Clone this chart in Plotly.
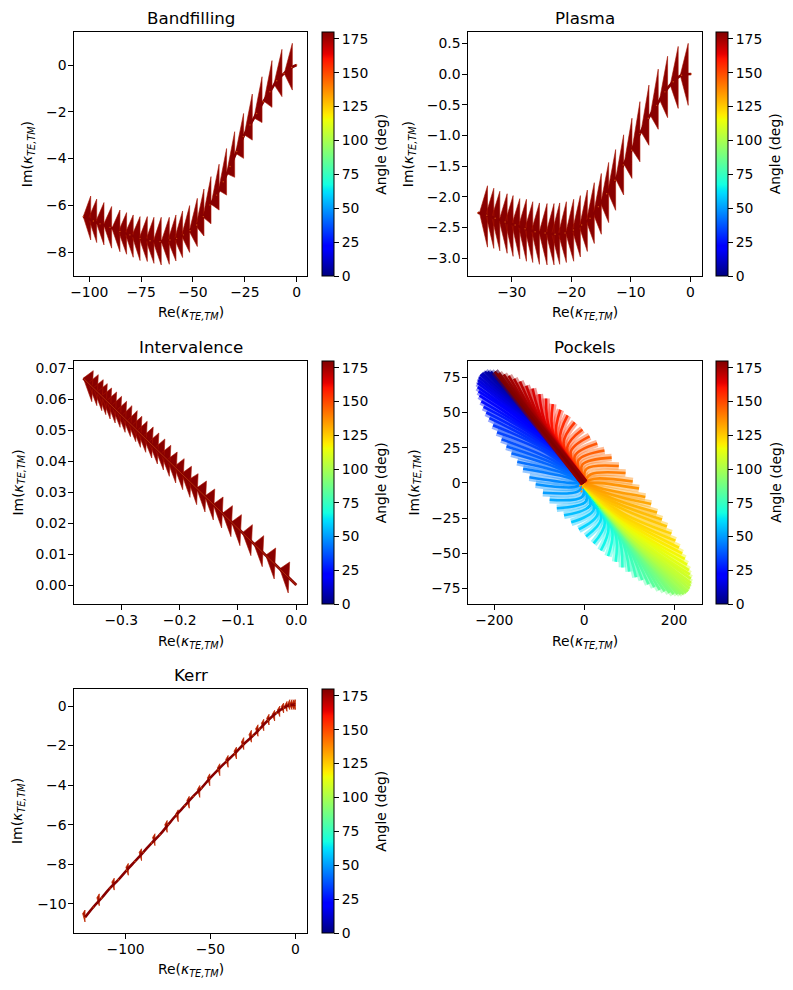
import plotly.graph_objects as go
from plotly.colors import sample_colorscale

WIDTH, HEIGHT = 793, 990
DARK_RED = "#880000"
FONT = "DejaVu Sans"

# Jet colour ramp, stop by stop
JET = [
    [0.0, "rgb(0,0,127)"], [0.11, "rgb(0,0,255)"], [0.125, "rgb(0,0,255)"],
    [0.34, "rgb(0,219,255)"], [0.35, "rgb(0,229,247)"], [0.375, "rgb(20,255,226)"],
    [0.64, "rgb(238,255,8)"], [0.65, "rgb(247,246,0)"], [0.66, "rgb(255,236,0)"],
    [0.89, "rgb(255,19,0)"], [0.91, "rgb(230,0,0)"], [1.0, "rgb(127,0,0)"],
]

# Bandfilling
BF_SPINE_RE = [0, -2.4, -6.1, -9.6, -12.9, -16.1, -19.3, -22.5, -25.7, -28.9, -32.1, -35.4, -38.6, -41.8, -45, -48.2, -51.4, -54.6, -57.9, -61.1, -65.9, -70.7, -75.5, -80.4, -85.2, -90, -94.8, -98, -102.9]
BF_SPINE_IM = [0, -0.10, -0.36, -0.67, -1.14, -1.57, -2.07, -2.56, -3.06, -3.70, -4.34, -4.99, -5.56, -5.98, -6.48, -6.84, -7.08, -7.26, -7.41, -7.48, -7.55, -7.51, -7.41, -7.26, -7.12, -6.94, -6.79, -6.67, -6.48]
BF_FAN_RE = [-2.1, -7.1, -11.9, -16.7, -21.4, -25.6, -29.9, -33.8, -37.4, -41.3, -44.7, -47.9, -51.6, -55.0, -58.2, -61.4, -65.3, -68.8, -72.0, -75.5, -78.8, -82.0, -85.2, -89.2, -92.9, -96.4, -99.3]
BF_FAN_TOP = [0.93, 0.67, 0.19, -0.50, -1.24, -2.07, -2.85, -3.57, -4.24, -4.77, -5.30, -5.70, -6.01, -6.24, -6.41, -6.51, -6.51, -6.51, -6.48, -6.48, -6.41, -6.31, -6.20, -6.05, -5.88, -5.73, -5.60]
BF_FAN_BOTTOM = [-1.07, -1.35, -1.81, -2.46, -3.21, -3.99, -4.80, -5.56, -6.20, -6.79, -7.31, -7.76, -8.01, -8.23, -8.38, -8.52, -8.55, -8.48, -8.40, -8.36, -8.22, -8.09, -7.98, -7.83, -7.69, -7.59, -7.48]
BF_APEX_RE = [-6.0, -11.0, -15.8, -20.6, -25.3, -29.5, -33.8, -37.7, -41.3, -45.2, -48.6, -51.8, -55.5, -58.9, -62.1, -65.3, -69.2, -72.7, -75.9, -79.4, -82.7, -85.9, -89.1, -93.1, -96.8, -100.3, -102.9]
BF_APEX_IM = [-0.36, -0.82, -1.55, -2.26, -2.98, -3.77, -4.64, -5.35, -5.95, -6.50, -6.88, -7.11, -7.30, -7.44, -7.50, -7.54, -7.55, -7.48, -7.40, -7.29, -7.19, -7.11, -6.98, -6.82, -6.68, -6.55, -6.48]

# Plasma
PL_SPINE_RE = [0.1, -1.51, -2.91, -4.30, -5.70, -7.09, -8.49, -9.89, -11.28, -12.68, -14.08, -15.47, -16.87, -18.27, -19.66, -21.06, -22.74, -24.41, -26.09, -27.77, -29.44, -31.12, -32.79, -34.19, -35.7]
PL_SPINE_IM = [0.0, -0.02, -0.125, -0.29, -0.51, -0.72, -0.97, -1.24, -1.48, -1.73, -1.95, -2.16, -2.35, -2.46, -2.54, -2.59, -2.61, -2.59, -2.57, -2.52, -2.46, -2.41, -2.35, -2.30, -2.26]
PL_FAN_RE = [-0.39, -2.07, -3.85, -5.42, -6.98, -8.49, -9.83, -11.23, -12.57, -13.74, -14.97, -16.15, -17.32, -18.49, -19.61, -20.84, -21.96, -22.91, -24.08, -25.36, -26.48, -27.54, -28.66, -29.78, -30.78, -32.01, -33.02, -34.08]
PL_FAN_TOP = [0.50, 0.45, 0.29, 0.08, -0.18, -0.45, -0.72, -0.99, -1.23, -1.44, -1.62, -1.77, -1.89, -1.98, -2.04, -2.08, -2.10, -2.11, -2.11, -2.10, -2.08, -2.04, -2.03, -1.98, -1.95, -1.91, -1.86, -1.82]
PL_FAN_BOTTOM = [-0.51, -0.56, -0.71, -0.90, -1.16, -1.43, -1.70, -1.97, -2.22, -2.42, -2.61, -2.76, -2.89, -2.98, -3.05, -3.07, -3.10, -3.11, -3.11, -3.10, -3.07, -3.05, -3.01, -2.97, -2.92, -2.88, -2.84, -2.82]
PL_APEX_RE = [-1.73, -3.41, -5.20, -6.76, -8.32, -9.83, -11.17, -12.57, -13.91, -15.08, -16.31, -17.49, -18.66, -19.83, -20.95, -22.18, -23.30, -24.25, -25.42, -26.70, -27.82, -28.88, -30.0, -31.12, -32.12, -33.35, -34.36, -35.42]
PL_APEX_IM = [-0.02, -0.18, -0.42, -0.67, -0.94, -1.23, -1.47, -1.71, -1.92, -2.11, -2.28, -2.40, -2.49, -2.55, -2.59, -2.60, -2.60, -2.59, -2.58, -2.55, -2.52, -2.48, -2.45, -2.41, -2.38, -2.33, -2.29, -2.26]

# Intervalence
IV_SPINE_RE = [0, -0.05, -0.10, -0.15, -0.20, -0.25, -0.30, -0.35, -0.365]
IV_SPINE_IM = [0, 0.0091, 0.0183, 0.0274, 0.0365, 0.0457, 0.0548, 0.0640, 0.0667]
IV_TOP_RE = [-0.0114, -0.0354, -0.0559, -0.0753, -0.0941, -0.1095, -0.1255, -0.1398, -0.1540, -0.1683, -0.1797, -0.1922, -0.2042, -0.2151, -0.2253, -0.2356, -0.2453, -0.2556, -0.2647, -0.2727, -0.2818, -0.2909, -0.2995, -0.3080, -0.3166, -0.3240, -0.3309, -0.3394, -0.3480]
IV_TOP_IM = [0.00742, 0.01194, 0.01591, 0.01946, 0.02269, 0.02559, 0.02839, 0.03097, 0.03355, 0.03591, 0.03828, 0.04075, 0.04290, 0.04505, 0.04710, 0.04903, 0.05097, 0.05280, 0.05441, 0.05624, 0.05785, 0.05925, 0.06086, 0.06226, 0.06355, 0.06495, 0.06624, 0.06785, 0.06914]
IV_BOTTOM_RE = [-0.0139, -0.0379, -0.0584, -0.0778, -0.0966, -0.1120, -0.1280, -0.1423, -0.1565, -0.1708, -0.1822, -0.1947, -0.2067, -0.2176, -0.2278, -0.2381, -0.2478, -0.2581, -0.2672, -0.2752, -0.2843, -0.2934, -0.3020, -0.3105, -0.3191, -0.3265, -0.3334, -0.3419, -0.3505]
IV_BOTTOM_IM = [-0.00258, 0.00194, 0.00591, 0.00946, 0.01269, 0.01559, 0.01839, 0.02097, 0.02355, 0.02591, 0.02828, 0.03075, 0.03290, 0.03505, 0.03710, 0.03903, 0.04097, 0.04280, 0.04441, 0.04624, 0.04785, 0.04925, 0.05086, 0.05226, 0.05355, 0.05495, 0.05624, 0.05785, 0.05914]
IV_APEX_RE = [-0.0285, -0.0525, -0.0730, -0.0924, -0.1112, -0.1266, -0.1426, -0.1569, -0.1711, -0.1854, -0.1968, -0.2093, -0.2213, -0.2322, -0.2424, -0.2527, -0.2624, -0.2727, -0.2818, -0.2898, -0.2989, -0.3080, -0.3166, -0.3251, -0.3337, -0.3411, -0.3480, -0.3565, -0.3651]
IV_APEX_IM = [0.00521, 0.00960, 0.01334, 0.01689, 0.02033, 0.02314, 0.02607, 0.02868, 0.03128, 0.03389, 0.03598, 0.03826, 0.04045, 0.04245, 0.04431, 0.04619, 0.04797, 0.04985, 0.05151, 0.05298, 0.05464, 0.05630, 0.05787, 0.05943, 0.06100, 0.06235, 0.06361, 0.06517, 0.06674]

# Kerr
KE_SPINE_RE = [0, -3.3, -6.9, -11.2, -16.1, -21.0, -24.9, -30.8, -35.7, -40.6, -45.5, -50.4, -55.3, -60.2, -65.1, -70, -74.9, -79.8, -84.7, -89.6, -94.5, -99.4, -104.3, -109.2, -114.1, -119, -123.9]
KE_SPINE_IM = [0.07, 0.05, -0.10, -0.35, -0.72, -1.16, -1.50, -1.96, -2.41, -2.80, -3.22, -3.66, -4.15, -4.57, -5.04, -5.50, -6.00, -6.51, -6.93, -7.40, -7.86, -8.31, -8.79, -9.21, -9.71, -10.17, -10.69]
KE_FAN_RE = [-123.9, -115.5, -106.7, -98.4, -90.6, -82.7, -75.5, -69, -62.5, -56.3, -50.4, -44.5, -39.6, -34.7, -30.4, -25.9, -22, -18.6, -15.5, -12.2, -9.2, -6.9, -4.9, -3.3, -2, -0.8, 0]
KE_FAN_TOP = [-10.32, -9.50, -8.71, -7.96, -7.22, -6.46, -5.79, -5.25, -4.57, -4.02, -3.43, -2.92, -2.50, -2.08, -1.60, -1.23, -0.95, -0.67, -0.42, -0.22, -0.01, 0.15, 0.23, 0.32, 0.32, 0.32, 0.32]
KE_FAN_BOTTOM = [-10.92, -10.10, -9.31, -8.56, -7.82, -7.06, -6.39, -5.85, -5.17, -4.62, -4.03, -3.52, -3.10, -2.68, -2.20, -1.83, -1.53, -1.25, -0.96, -0.76, -0.53, -0.35, -0.27, -0.18, -0.18, -0.18, -0.18]
KE_APEX_RE = [-125.3, -116.9, -108.1, -99.8, -92, -84.1, -76.9, -70.4, -63.9, -57.7, -51.8, -45.9, -41, -36.1, -31.8, -27.3, -23.4, -20, -16.9, -13.6, -10.6, -8.3, -6.3, -4.7, -3.4, -2.2, -1.4]
KE_APEX_IM = [-10.5, -9.7, -8.9, -8.15, -7.4, -6.65, -6.0, -5.45, -4.77, -4.22, -3.63, -3.12, -2.7, -2.28, -1.82, -1.45, -1.15, -0.87, -0.62, -0.42, -0.2, -0.03, 0.02, 0.07, 0.07, 0.07, 0.07]

# Pockels: one curved spoke per angle, from the origin through a bend to its end point
PO_ANGLE = list(range(0, 181, 2))
PO_END_RE = [-199, -208, -215, -221, -227, -231, -234, -236, -237, -237, -235, -233, -229, -224, -218, -211, -203, -194, -184, -173, -162, -149, -136, -122, -108, -92, -77, -61, -45, -29, -12, 4, 21, 37, 53, 70, 85, 100, 115, 129, 143, 156, 168, 179, 190,
             199, 208, 215, 221, 227, 231, 234, 236, 237, 237, 235, 233, 229, 224, 218, 211, 203, 194, 184, 173, 162, 149, 136, 122, 108, 92, 77, 61, 45, 29, 12, -4, -21, -37, -53, -70, -85, -100, -115, -129, -143, -156, -168, -179, -190, -199]
PO_END_IM = [79, 79, 79, 79, 78, 77, 75, 73, 71, 68, 65, 62, 58, 54, 50, 46, 41, 36, 31, 26, 21, 15, 10, 4, -1, -7, -12, -18, -23, -28, -33, -38, -43, -48, -52, -56, -60, -63, -67, -69, -72, -74, -76, -77, -78,
             -79, -79, -79, -79, -78, -77, -75, -73, -71, -68, -65, -62, -58, -54, -50, -46, -41, -36, -31, -26, -21, -15, -10, -4, 1, 7, 12, 18, 23, 28, 33, 38, 43, 48, 52, 56, 60, 63, 67, 69, 72, 74, 76, 77, 78, 79]
PO_BEND_RE = [-119, -122, -123, -124, -124, -124, -123, -122, -120, -117, -114, -110, -106, -101, -96, -90, -84, -77, -70, -63, -55, -47, -39, -31, -22, -14, -5, 4, 13, 21, 30, 38, 46, 54, 62, 69, 76, 83, 89, 95, 100, 105, 110, 113, 117,
              119, 122, 123, 124, 124, 124, 123, 122, 120, 117, 114, 110, 106, 101, 96, 90, 84, 77, 70, 63, 55, 47, 39, 31, 22, 14, 5, -4, -13, -21, -30, -38, -46, -54, -62, -69, -76, -83, -89, -95, -100, -105, -110, -113, -117, -119]
PO_BEND_IM = [47, 47, 47, 47, 46, 45, 44, 43, 41, 39, 38, 35, 33, 31, 28, 25, 23, 20, 16, 13, 10, 7, 4, 0, -3, -6, -10, -13, -16, -19, -22, -25, -28, -30, -33, -35, -37, -39, -41, -43, -44, -45, -46, -47, -47,
              -47, -47, -47, -47, -46, -45, -44, -43, -41, -39, -38, -35, -33, -31, -28, -25, -23, -20, -16, -13, -10, -7, -4, 0, 3, 6, 10, 13, 16, 19, 22, 25, 28, 30, 33, 35, 37, 39, 41, 43, 44, 45, 46, 47, 47, 47]
PO_SPECK_RE = [-9.5, -4, -6]
PO_SPECK_IM = [-2, -3.5, -6]

CBAR_TICKS = [0, 25, 50, 75, 100, 125, 150, 175]
RE_LABEL = "Re(<i>κ</i><sub><i>TE,TM</i></sub>)"
IM_LABEL = "Im(<i>κ</i><sub><i>TE,TM</i></sub>)"

# Panel frames in pixels: left, right, top, bottom
PANELS = [
    dict(title="Bandfilling", box=(74.3, 307, 32.3, 276), xr=(-107.2, 4.97), yr=(-9.02, 1.40),
         xt=[-100, -75, -50, -25, 0], yt=[-8, -6, -4, -2, 0], xf="d", yf="d", ylab=28, xlab=313),
    dict(title="Plasma", box=(468.3, 701.5, 32.3, 276), xr=(-37.3, 1.84), yr=(-3.29, 0.68),
         xt=[-30, -20, -10, 0], yt=[-3, -2.5, -2, -1.5, -1, -0.5, 0, 0.5], xf="d", yf=".1f", ylab=409, xlab=313),
    dict(title="Intervalence", box=(74.3, 307, 361, 604), xr=(-0.3805, 0.0183), yr=(-0.00613, 0.07226),
         xt=[-0.3, -0.2, -0.1, 0], yt=[0, 0.01, 0.02, 0.03, 0.04, 0.05, 0.06, 0.07], xf=".1f", yf=".2f", ylab=18, xlab=642),
    dict(title="Pockels", box=(468.3, 701.5, 361, 604), xr=(-258, 261), yr=(-86, 86.6),
         xt=[-200, 0, 200], yt=[-75, -50, -25, 0, 25, 50, 75], xf="d", yf="d", ylab=414, xlab=642),
    dict(title="Kerr", box=(74.3, 307, 689, 933), xr=(-130.2, 6.86), yr=(-11.48, 0.86),
         xt=[-100, -50, 0], yt=[-10, -8, -6, -4, -2, 0], xf="d", yf="d", ylab=18, xlab=970),
]


def arrowheads(top_re, top_im, apex_re, apex_im, bottom_re, bottom_im):
    """Join the three corners of every fan into one polygon list."""
    xs, ys = [], []
    for a, b, c, d, e, f in zip(top_re, top_im, apex_re, apex_im, bottom_re, bottom_im):
        xs += [a, c, e, a, None]
        ys += [b, d, f, b, None]
    return xs, ys


def fan_trace(xs, ys, axis, edge_width=0.6, edge="#a81400", fill=DARK_RED):
    return go.Scatter(x=xs, y=ys, mode="lines", fill="toself", fillcolor=fill,
                      line=dict(color=edge, width=edge_width),
                      xaxis=f"x{axis}", yaxis=f"y{axis}", showlegend=False, hoverinfo="skip")


def spine_traces(re, im, axis, width=2.6):
    return [
        go.Scatter(x=re, y=im, mode="lines", line=dict(color=DARK_RED, width=width, shape="spline"),
                   xaxis=f"x{axis}", yaxis=f"y{axis}", showlegend=False, hoverinfo="skip"),
        go.Scatter(x=re, y=im, mode="markers", marker=dict(color="#d05010", size=1.4),
                   xaxis=f"x{axis}", yaxis=f"y{axis}", showlegend=False, hoverinfo="skip"),
    ]


fig = go.Figure()

# Bandfilling
fig.add_trace(fan_trace(*arrowheads(BF_FAN_RE, BF_FAN_TOP, BF_APEX_RE, BF_APEX_IM, BF_FAN_RE, BF_FAN_BOTTOM), 1))
fig.add_traces(spine_traces(BF_SPINE_RE, BF_SPINE_IM, 1))

# Plasma
fig.add_trace(fan_trace(*arrowheads(PL_FAN_RE, PL_FAN_TOP, PL_APEX_RE, PL_APEX_IM, PL_FAN_RE, PL_FAN_BOTTOM), 2))
fig.add_traces(spine_traces(PL_SPINE_RE, PL_SPINE_IM, 2))

# Intervalence
fig.add_trace(fan_trace(*arrowheads(IV_TOP_RE, IV_TOP_IM, IV_APEX_RE, IV_APEX_IM, IV_BOTTOM_RE, IV_BOTTOM_IM), 3))
fig.add_trace(go.Scatter(x=IV_SPINE_RE, y=IV_SPINE_IM, mode="lines", line=dict(color=DARK_RED, width=2.8),
                         xaxis="x3", yaxis="y3", showlegend=False, hoverinfo="skip"))
fig.add_trace(go.Scatter(x=IV_SPINE_RE, y=IV_SPINE_IM, mode="lines", line=dict(color="#c84a10", width=0.6),
                         xaxis="x3", yaxis="y3", showlegend=False, hoverinfo="skip"))

# Pockels: spokes are stacked in angle order, so 180 deg ends up on top.
# Each spoke is a pale wide stroke under a narrow solid one.
for i, angle in enumerate(PO_ANGLE):
    colour = sample_colorscale(JET, [angle / 180])[0]
    path = dict(x=[0, PO_BEND_RE[i], PO_END_RE[i]], y=[0, PO_BEND_IM[i], PO_END_IM[i]],
                xaxis="x4", yaxis="y4", showlegend=False, hoverinfo="skip")
    fig.add_trace(go.Scatter(mode="lines", line=dict(color=colour, width=7.5, shape="spline", smoothing=1),
                             opacity=0.4, **path))
    fig.add_trace(go.Scatter(mode="lines", line=dict(color=colour, width=2.6, shape="spline", smoothing=1),
                             opacity=0.95, **path))
fig.add_trace(go.Scatter(x=PO_SPECK_RE, y=PO_SPECK_IM, mode="markers",
                         marker=dict(color="#ff8a1a", size=2.2),
                         xaxis="x4", yaxis="y4", showlegend=False, hoverinfo="skip"))

# Kerr
fig.add_trace(fan_trace(*arrowheads(KE_FAN_RE, KE_FAN_TOP, KE_APEX_RE, KE_APEX_IM, KE_FAN_RE, KE_FAN_BOTTOM), 5,
                        edge_width=0.8, edge="#c02800", fill="#a81400"))
fig.add_traces(spine_traces(KE_SPINE_RE, KE_SPINE_IM, 5))

layout = dict(
    width=WIDTH, height=HEIGHT, margin=dict(l=0, r=0, t=0, b=0, autoexpand=False),
    paper_bgcolor="white", plot_bgcolor="white", showlegend=False,
    font=dict(family=FONT, size=13.9, color="black"),
)
notes = []


def note(text, x, y, size=13.9, angle=0):
    notes.append(dict(text=text, x=x / WIDTH, y=1 - y / HEIGHT, xref="paper", yref="paper",
                      xanchor="center", yanchor="middle", showarrow=False, textangle=angle,
                      font=dict(family=FONT, size=size, color="black")))


for n, p in enumerate(PANELS, start=1):
    left, right, top, bottom = p["box"]
    axis_style = dict(showgrid=False, zeroline=False, showline=True, mirror=True, linecolor="black", linewidth=1,
                      ticks="outside", ticklen=5, tickwidth=1, tickcolor="black",
                      tickfont=dict(family=FONT, size=13.9))
    suffix = "" if n == 1 else str(n)
    layout[f"xaxis{suffix}"] = dict(axis_style, domain=[left / WIDTH, right / WIDTH], range=list(p["xr"]),
                                    tickmode="array", tickvals=p["xt"], tickformat=p["xf"],
                                    anchor=f"y{suffix}", ticklabelstandoff=-2)
    layout[f"yaxis{suffix}"] = dict(axis_style, domain=[1 - bottom / HEIGHT, 1 - top / HEIGHT], range=list(p["yr"]),
                                    tickmode="array", tickvals=p["yt"], tickformat=p["yf"],
                                    anchor=f"x{suffix}", ticklabelstandoff=-1)

    bar_left = right + 14.7
    fig.add_trace(go.Scatter(
        x=[None], y=[None], mode="markers", xaxis=f"x{n}", yaxis=f"y{n}", showlegend=False, hoverinfo="skip",
        marker=dict(color=[0], cmin=0, cmax=180, colorscale=JET, showscale=True, size=1,
                    colorbar=dict(x=bar_left / WIDTH, xanchor="left", xpad=0, ypad=0, thickness=12.3,
                                  y=1 - bottom / HEIGHT, yanchor="bottom", len=(bottom - top) / HEIGHT,
                                  lenmode="fraction", outlinewidth=1, outlinecolor="black",
                                  ticks="outside", ticklen=5, tickwidth=1, tickcolor="black",
                                  tickmode="array", tickvals=CBAR_TICKS,
                                  tickfont=dict(family=FONT, size=13.9)))))

    centre_x = (left + right) / 2
    centre_y = (top + bottom) / 2
    note(p["title"], centre_x, top - 14, size=16.7)
    note(RE_LABEL, centre_x, p["xlab"])
    note(IM_LABEL, p["ylab"], centre_y, angle=-90)
    note("Angle (deg)", bar_left + 59, centre_y, angle=-90)

layout["annotations"] = notes
fig.update_layout(**layout)
fig.write_html("out.html")
